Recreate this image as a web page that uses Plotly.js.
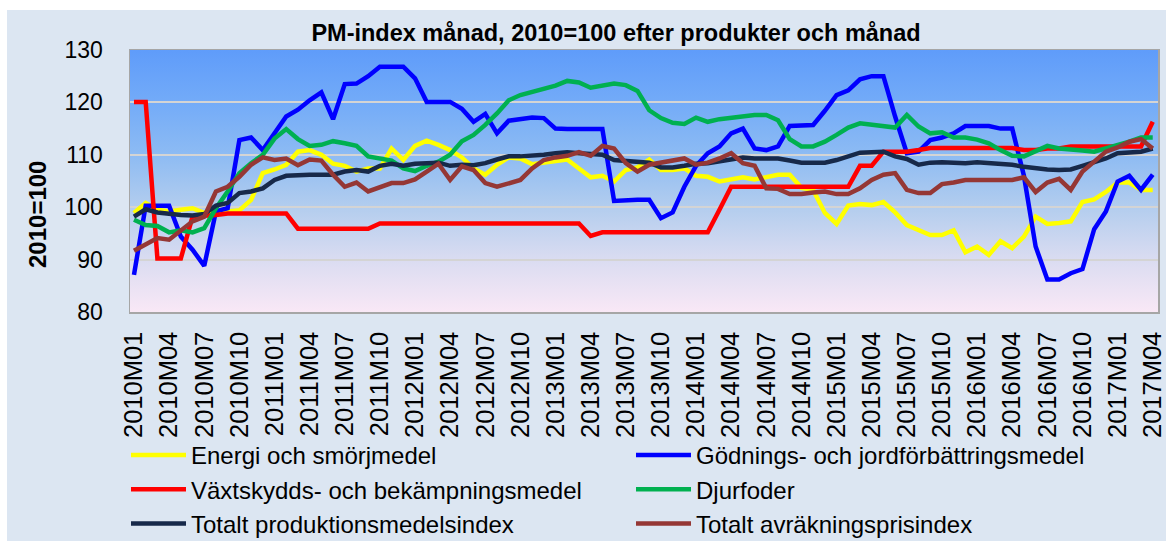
<!DOCTYPE html>
<html>
<head>
<meta charset="utf-8">
<script src="https://cdn.plot.ly/plotly-3.0.1.min.js"></script>
<style>html,body{margin:0;padding:0;background:#fff;}#chart{width:1173px;height:541px;}</style>
</head>
<body>
<div id="chart"></div>
<script>
const months = [
"2010M01","2010M02","2010M03","2010M04","2010M05","2010M06","2010M07","2010M08","2010M09","2010M10","2010M11","2010M12",
"2011M01","2011M02","2011M03","2011M04","2011M05","2011M06","2011M07","2011M08","2011M09","2011M10","2011M11","2011M12",
"2012M01","2012M02","2012M03","2012M04","2012M05","2012M06","2012M07","2012M08","2012M09","2012M10","2012M11","2012M12",
"2013M01","2013M02","2013M03","2013M04","2013M05","2013M06","2013M07","2013M08","2013M09","2013M10","2013M11","2013M12",
"2014M01","2014M02","2014M03","2014M04","2014M05","2014M06","2014M07","2014M08","2014M09","2014M10","2014M11","2014M12",
"2015M01","2015M02","2015M03","2015M04","2015M05","2015M06","2015M07","2015M08","2015M09","2015M10","2015M11","2015M12",
"2016M01","2016M02","2016M03","2016M04","2016M05","2016M06","2016M07","2016M08","2016M09","2016M10","2016M11","2016M12",
"2017M01","2017M02","2017M03","2017M04"];

const tickMonths = ["2010M01","2010M04","2010M07","2010M10","2011M01","2011M04","2011M07","2011M10",
"2012M01","2012M04","2012M07","2012M10","2013M01","2013M04","2013M07","2013M10",
"2014M01","2014M04","2014M07","2014M10","2015M01","2015M04","2015M07","2015M10",
"2016M01","2016M04","2016M07","2016M10","2017M01","2017M04"];

const energi = [98.9,100.8,99.5,99.2,99.5,99.8,98.9,99.2,99.2,99.4,101.4,106.5,
107.2,108.1,110.6,110.9,110.0,108.3,107.9,106.8,107.4,107.4,111.2,109.0,
111.7,112.7,111.9,110.9,109.5,107.4,106.2,108.1,109.5,109.3,108.2,108.5,
108.9,109.1,107.4,105.7,106.0,104.9,107.1,107.6,109.1,107.1,107.1,107.4,
106.0,105.8,104.9,105.2,105.7,105.3,105.8,106.2,106.2,103.7,103.3,98.9,
96.8,100.3,100.6,100.4,101.0,99.0,96.6,95.7,94.7,94.7,95.6,91.4,
92.5,90.9,93.5,92.2,94.4,98.2,96.8,97.0,97.3,101.0,101.5,102.9,
104.7,104.7,103.3,103.3];

const godning = [87.1,100.3,100.3,100.3,94.4,91.9,88.8,99.2,99.8,112.8,113.3,110.9,
114.1,117.3,118.6,120.4,121.9,116.8,123.5,123.6,125.0,126.8,126.8,126.8,
124.6,120.1,120.1,120.1,118.8,116.3,117.8,114.1,116.5,116.8,117.1,117.0,
115.0,114.9,114.9,114.9,114.9,101.2,101.4,101.4,101.4,97.9,99.0,103.9,
107.9,110.3,111.6,114.1,115.0,111.2,110.9,111.6,115.5,115.6,115.7,118.4,
121.4,122.3,124.4,125.0,125.0,117.3,110.3,110.6,112.8,113.3,114.1,115.5,
115.5,115.5,115.0,115.0,106.0,92.5,86.2,86.2,87.4,88.2,95.8,99.2,
104.9,106.0,103.3,106.2];

const vaxtskydd = [120.1,120.1,90.2,90.2,90.2,98.2,98.3,98.5,98.8,98.8,98.8,98.8,
98.8,98.8,95.9,95.9,95.9,95.9,95.9,95.9,95.9,96.9,96.9,96.9,
96.9,96.9,96.9,96.9,96.9,96.9,96.9,96.9,96.9,96.9,96.9,96.9,
96.9,96.9,96.9,94.5,95.2,95.2,95.2,95.2,95.2,95.2,95.2,95.2,
95.2,95.2,99.5,103.9,103.9,103.9,103.9,103.9,103.9,103.9,103.9,103.9,
103.9,103.9,107.9,107.9,110.6,110.6,110.6,110.9,111.3,111.3,111.3,111.3,
111.3,111.3,111.3,111.3,110.9,110.9,111.2,111.2,111.6,111.6,111.6,111.6,
111.6,111.6,111.6,116.3];

const djurfoder = [97.6,96.6,96.4,95.2,95.6,95.2,96.0,99.8,103.0,106.5,108.4,110.0,
113.1,114.9,113.0,111.7,111.9,112.6,112.2,111.7,109.7,109.3,108.9,107.4,
106.9,107.9,108.7,110.0,112.6,113.8,115.7,117.9,120.4,121.4,122.0,122.5,
123.2,124.1,123.8,122.8,123.3,123.6,123.3,122.2,118.5,117.0,116.1,115.9,
117.1,116.3,116.8,117.1,117.4,117.6,117.6,116.6,113.0,111.6,111.6,112.5,
113.8,115.2,116.0,115.7,115.4,115.2,117.6,115.4,114.1,114.3,113.3,113.3,
112.9,112.2,110.9,109.8,109.7,110.7,111.7,111.2,110.9,110.8,110.6,111.2,
111.7,112.5,113.3,113.3];

const totProd = [98.2,99.6,99.0,98.7,98.5,98.4,98.7,100.3,100.8,102.7,103.0,103.6,
105.2,106.0,106.2,106.2,106.2,106.2,106.8,107.1,106.8,107.9,108.3,107.9,
108.3,108.4,108.5,107.9,108.1,108.0,108.4,109.1,109.7,109.7,109.8,110.0,
110.3,110.5,110.3,110.1,110.0,109.0,108.9,108.7,108.5,107.6,107.6,107.9,
108.3,108.4,108.7,109.2,109.5,109.3,109.3,109.3,108.9,108.5,108.5,108.5,
109.0,109.8,110.4,110.5,110.6,109.7,109.2,108.1,108.5,108.6,108.5,108.4,
108.6,108.4,108.4,108.1,107.7,107.4,107.2,107.1,107.2,107.9,108.5,109.3,
110.3,110.5,110.6,111.2];

const totAvr = [91.7,92.8,94.1,93.8,95.6,97.3,98.2,103.0,103.9,105.8,108.1,109.5,
109.0,109.3,108.0,109.1,108.9,106.2,103.9,104.7,103.0,103.8,104.6,104.6,
105.3,106.8,108.3,105.2,107.8,107.1,104.6,103.9,104.6,105.2,107.4,109.0,
109.5,109.8,110.5,109.8,111.7,111.2,108.4,106.8,108.1,108.5,109.0,109.3,
108.1,108.5,109.3,110.3,108.4,107.9,103.6,103.5,102.5,102.5,102.8,103.0,
102.5,102.5,103.6,105.2,106.2,106.5,103.3,102.7,102.7,104.4,104.7,105.2,
105.2,105.2,105.1,105.2,105.7,102.9,104.7,105.4,103.3,106.8,108.7,110.6,
111.4,112.5,113.0,111.2];

const seriesNames = ["Energi och smörjmedel","Gödnings- och jordförbättringsmedel","Växtskydds- och bekämpningsmedel","Djurfoder","Totalt produktionsmedelsindex","Totalt avräkningsprisindex"];
const seriesData = [energi, godning, vaxtskydd, djurfoder, totProd, totAvr];
const seriesColors = ["#ffff00","#0000ff","#ff0000","#00b050","#17294a","#953735"];

const W = 1173, H = 541;
const L = 130, R = 15, T = 50, B = 229;
const PW = W - L - R, PH = H - T - B;

function makeBg(){
  const c = document.createElement('canvas'); c.width = W; c.height = H;
  const g = c.getContext('2d');
  g.fillStyle = '#ffffff'; g.fillRect(0,0,W,H);
  g.fillStyle = '#dce6f2'; g.fillRect(7,10,W-14,H-10);
  const grd = g.createLinearGradient(0,T,0,T+PH);
  grd.addColorStop(0,'#5f9cfa');
  grd.addColorStop(0.2,'#73abf8');
  grd.addColorStop(0.4,'#8dbbf3');
  grd.addColorStop(0.6,'#b3cdee');
  grd.addColorStop(0.8,'#dadcf1');
  grd.addColorStop(1,'#f9e8f6');
  g.fillStyle = grd; g.fillRect(L,T,PW,PH);
  return c.toDataURL('image/png');
}

const FONT = 'Liberation Sans, Arial, sans-serif';

const traces = seriesNames.map((n,k)=>({
  type:'scatter', mode:'lines', name:n, x:months, y:seriesData[k],
  line:{color:seriesColors[k], width:4.5}, hoverinfo:'skip'
}));

const layout = {
  width:W, height:H,
  margin:{l:L, r:R, t:T, b:B, autoexpand:false},
  paper_bgcolor:'#ffffff', plot_bgcolor:'rgba(0,0,0,0)',
  font:{family:FONT, color:'#000000'},
  title:{text:'<b>PM-index månad, 2010=100 efter produkter och månad</b>', font:{size:23.5, family:FONT, color:'#000'},
         xref:'container', yref:'container', x:616/W, y:1-33/H, xanchor:'center', yanchor:'middle'},
  xaxis:{type:'category', categoryorder:'array', categoryarray:months, range:[-0.34,87.45],
         tickmode:'array', tickvals:tickMonths, ticktext:tickMonths, tickangle:-90,
         tickfont:{size:25.5, family:FONT, color:'#000'}, ticks:'', ticklabelstandoff:8,
         showgrid:false, showline:true, mirror:true, linecolor:'#a6a6a6', linewidth:1.5, zeroline:false, fixedrange:true},
  yaxis:{range:[80,130], tickmode:'array', tickvals:[80,90,100,110,120,130],
         tickfont:{size:23, family:FONT, color:'#000'}, ticks:'', ticklabelstandoff:21,
         showgrid:true, gridcolor:'#d4d4d4', gridwidth:2, showline:true, mirror:true, linecolor:'#a6a6a6', linewidth:1.5,
         zeroline:false, fixedrange:true},
  annotations:[{text:'<b>2010=100</b>', textangle:-90, xref:'paper', yref:'paper',
                x:(37-L)/PW, y:(T+PH-215)/PH, xanchor:'center', yanchor:'middle', showarrow:false,
                font:{size:24, family:FONT, color:'#000'}}],
  legend:{orientation:'h', xref:'container', yref:'container', x:126/W, y:1-433/H, xanchor:'left', yanchor:'top',
          entrywidth:435, entrywidthmode:'pixels', itemwidth:55, font:{size:24, family:FONT, color:'#000'},
          bgcolor:'rgba(0,0,0,0)', traceorder:'normal'},
  images:[{source:makeBg(), xref:'paper', yref:'paper', x:-L/PW, y:1+T/PH, sizex:W/PW, sizey:H/PH,
           xanchor:'left', yanchor:'top', sizing:'stretch', layer:'below'}],
  showlegend:true
};

Plotly.newPlot('chart', traces, layout, {displayModeBar:false, staticPlot:true});
</script>
</body>
</html>
